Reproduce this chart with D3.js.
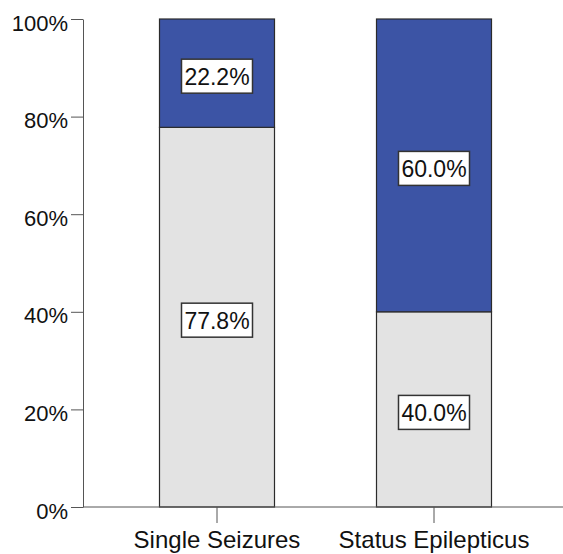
<!DOCTYPE html>
<html>
<head>
<meta charset="utf-8">
<script src="https://cdn.jsdelivr.net/npm/d3@7"></script>
<style>
  body { margin: 0; background: #fff; }
  text { font-family: "Liberation Sans", Arial, sans-serif; }
</style>
</head>
<body>
<div id="chart"></div>
<script>
// data
var categories = ['Single Seizures', 'Status Epilepticus'];
var lowerValues = [77.8, 40.0];   // grey part
var upperValues = [22.2, 60.0];   // blue part
var yTicks = [0, 20, 40, 60, 80, 100];

var W = 563, H = 554;
var margin = { top: 19, right: 0, bottom: 47, left: 83 };
var width = W - margin.left - margin.right,
    height = H - margin.top - margin.bottom;

var svg = d3.select('#chart').append('svg')
  .attr('width', W).attr('height', H)
  .append('g')
  .attr('transform', 'translate(' + margin.left + ',' + margin.top + ')');

var barW = 115;
var centers = d3.scalePoint().domain(categories).range([134, 351]);
var y = d3.scaleLinear().domain([0, 100]).range([height, 0]);

var rows = categories.map(function (c, i) {
  return { cat: c, lower: lowerValues[i], upper: upperValues[i] };
});

var blue = '#3c54a5', grey = '#e3e3e3', edge = '#2b2b2b';

// bars
rows.forEach(function (d) {
  var cx = centers(d.cat);
  svg.append('rect')
    .attr('x', cx - barW / 2).attr('width', barW)
    .attr('y', y(d.lower)).attr('height', y(0) - y(d.lower))
    .attr('fill', grey).attr('stroke', edge).attr('stroke-width', 1.2);
  svg.append('rect')
    .attr('x', cx - barW / 2).attr('width', barW)
    .attr('y', y(100)).attr('height', y(d.lower) - y(100))
    .attr('fill', blue).attr('stroke', edge).attr('stroke-width', 1.2);
});

// axes
var yAxis = svg.append('g')
  .call(d3.axisLeft(y).tickValues(yTicks).tickSize(12).tickSizeOuter(0)
    .tickFormat(function (d) { return d + '%'; }));
yAxis.select('.domain').attr('stroke', '#555');
yAxis.selectAll('.tick line').attr('stroke', '#555');
yAxis.selectAll('.tick text').attr('font-size', 22).attr('fill', '#111')
  .attr('x', -15).attr('dy', '0.5em');

var xAxis = svg.append('g').attr('transform', 'translate(0,' + height + ')');
xAxis.append('line').attr('x1', 0).attr('x2', width).attr('stroke', '#555');
categories.forEach(function (c) {
  var cx = centers(c);
  xAxis.append('line').attr('x1', cx).attr('x2', cx).attr('y1', 0).attr('y2', 16)
    .attr('stroke', '#555');
  xAxis.append('text').attr('x', cx).attr('y', 41).attr('text-anchor', 'middle')
    .attr('font-size', 24).attr('fill', '#111').text(c);
});

// value labels with boxes
function label(cx, cy, v) {
  var g = svg.append('g').attr('transform', 'translate(' + cx + ',' + cy + ')');
  g.append('rect').attr('x', -35.5).attr('y', -17).attr('width', 71).attr('height', 34)
    .attr('fill', '#fff').attr('stroke', '#333').attr('stroke-width', 1.5);
  g.append('text').attr('y', 8.5).attr('text-anchor', 'middle').attr('font-size', 23)
    .attr('fill', '#111').text(v.toFixed(1) + '%');
}
rows.forEach(function (d) {
  var cx = centers(d.cat);
  label(cx, (y(0) + y(d.lower)) / 2 + 3, d.lower);
  label(cx, (y(d.lower) + y(100)) / 2 + 3, d.upper);
});
</script>
</body>
</html>
